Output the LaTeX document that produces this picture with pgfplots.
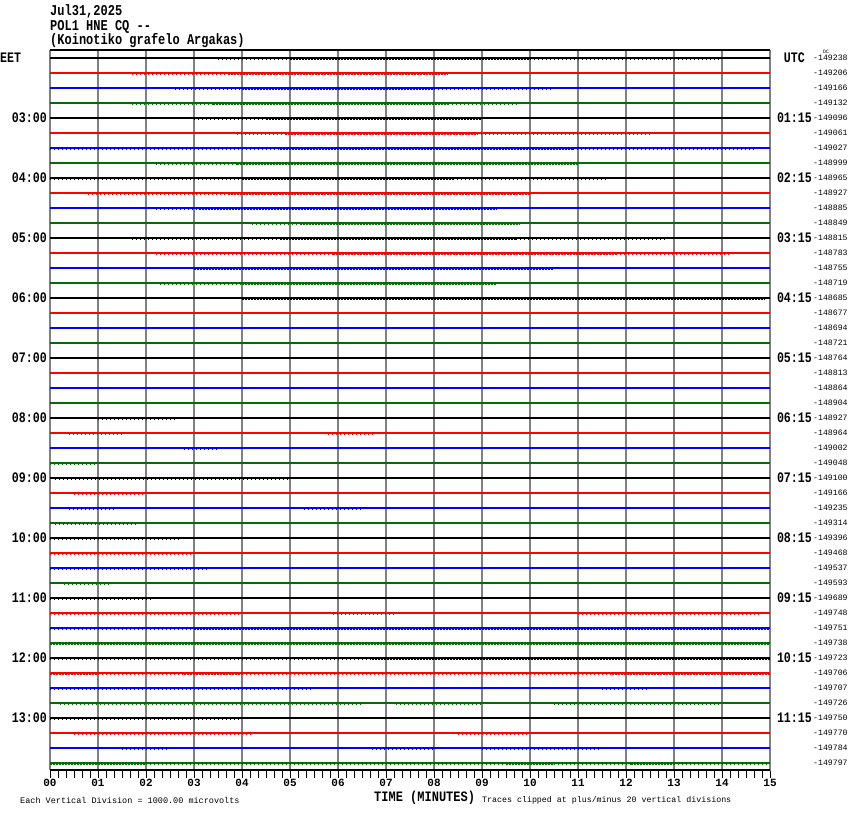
\documentclass[border=0pt]{standalone}
\usepackage{pgfplots}
\pgfplotsset{compat=1.18}
\usepackage{fontspec}
\usepackage{graphicx}
\newfontfamily\mono{Liberation Mono}
\definecolor{tgreen}{RGB}{0,110,0}
\definecolor{tred}{RGB}{255,0,0}
\definecolor{tblue}{RGB}{0,0,255}
\newcommand\rn[2]{\node[anchor=west,inner sep=0pt,font=\mono\fontsize{8.2}{9}\selectfont] at (axis cs:15,#1) [xshift=43pt] {#2};}
\newcommand\lt[2]{\node[anchor=east,inner sep=0pt,font=\mono\bfseries\fontsize{11.6}{12}\selectfont] at (axis cs:0,#1) [xshift=-3pt] {\scalebox{1}[1.25]{#2}};}
\newcommand\rt[2]{\node[anchor=east,inner sep=0pt,font=\mono\bfseries\fontsize{11.6}{12}\selectfont] at (axis cs:15,#1) [xshift=42pt] {\scalebox{1}[1.25]{#2}};}
\begin{document}
\begin{tikzpicture}
\path[use as bounding box] (0pt,0pt) rectangle (850pt,-814pt);
\node[anchor=west,inner sep=0pt,font=\mono\bfseries\fontsize{12}{12}\selectfont] at (50pt,-11pt) {\scalebox{1}[1.25]{Jul31,2025}};
\node[anchor=west,inner sep=0pt,font=\mono\bfseries\fontsize{12}{12}\selectfont] at (50pt,-27pt) {\scalebox{1}[1.25]{POL1 HNE CQ --}};
\node[anchor=west,inner sep=0pt,font=\mono\bfseries\fontsize{12}{12}\selectfont] at (50pt,-41pt) {\scalebox{1}[1.25]{(Koinotiko grafelo Argakas)}};
\node[anchor=west,inner sep=0pt,font=\mono\fontsize{8.5}{9}\selectfont] at (20pt,-800pt) {Each Vertical Division = 1000.00 microvolts};
\node[anchor=west,inner sep=0pt,font=\mono\bfseries\fontsize{12}{13}\selectfont] at (374pt,-798pt) {\scalebox{1}[1.2]{TIME (MINUTES)}};
\node[anchor=west,inner sep=0pt,font=\mono\fontsize{8.3}{9}\selectfont] at (482pt,-800pt) {Traces clipped at plus/minus 20 vertical divisions};
\node[anchor=west,inner sep=0pt,font=\mono\fontsize{5}{5}\selectfont] at (823pt,-52pt) {DC};
\begin{axis}[
  at={(50pt,-50pt)}, anchor=north west,
  scale only axis, width=720pt, height=720pt,
  xmin=0, xmax=15, ymin=-0.533, ymax=47.467, y dir=reverse,
  axis line style={draw=gray, line width=1pt},
  xtick={0,...,15},
  xticklabels={00,01,02,03,04,05,06,07,08,09,10,11,12,13,14,15},
  xticklabel style={font=\mono\bfseries\fontsize{11}{11}\selectfont, inner sep=1pt},
  minor x tick num=5,
  xtick pos=bottom, tick align=outside,
  major tick length=8pt, minor tick length=8pt,
  every tick/.style={black, line width=1pt},
  ytick=\empty,
  xmajorgrids, major x grid style={gray, line width=1.2pt},
  clip=false, unbounded coords=jump,
]
% baselines
\addplot[black, line width=1.2pt] coordinates {(0,0) (15,0) (nan,nan) (0,4) (15,4) (nan,nan) (0,8) (15,8) (nan,nan) (0,12) (15,12) (nan,nan) (0,16) (15,16) (nan,nan) (0,20) (15,20) (nan,nan) (0,24) (15,24) (nan,nan) (0,28) (15,28) (nan,nan) (0,32) (15,32) (nan,nan) (0,36) (15,36) (nan,nan) (0,40) (15,40) (nan,nan) (0,44) (15,44)};
\addplot[tred, line width=1.2pt] coordinates {(0,1) (15,1) (nan,nan) (0,5) (15,5) (nan,nan) (0,9) (15,9) (nan,nan) (0,13) (15,13) (nan,nan) (0,17) (15,17) (nan,nan) (0,21) (15,21) (nan,nan) (0,25) (15,25) (nan,nan) (0,29) (15,29) (nan,nan) (0,33) (15,33) (nan,nan) (0,37) (15,37) (nan,nan) (0,41) (15,41) (nan,nan) (0,45) (15,45)};
\addplot[tblue, line width=1.2pt] coordinates {(0,2) (15,2) (nan,nan) (0,6) (15,6) (nan,nan) (0,10) (15,10) (nan,nan) (0,14) (15,14) (nan,nan) (0,18) (15,18) (nan,nan) (0,22) (15,22) (nan,nan) (0,26) (15,26) (nan,nan) (0,30) (15,30) (nan,nan) (0,34) (15,34) (nan,nan) (0,38) (15,38) (nan,nan) (0,42) (15,42) (nan,nan) (0,46) (15,46)};
\addplot[tgreen, line width=1.2pt] coordinates {(0,3) (15,3) (nan,nan) (0,7) (15,7) (nan,nan) (0,11) (15,11) (nan,nan) (0,15) (15,15) (nan,nan) (0,19) (15,19) (nan,nan) (0,23) (15,23) (nan,nan) (0,27) (15,27) (nan,nan) (0,31) (15,31) (nan,nan) (0,35) (15,35) (nan,nan) (0,39) (15,39) (nan,nan) (0,43) (15,43) (nan,nan) (0,47) (15,47)};
% dense noise segments
\addplot[black, line width=3pt, dash pattern=on 2pt off 1pt] coordinates {(5.0,0) (10.0,0) (nan,nan) (4.5,4) (9.0,4) (nan,nan) (4.0,8) (8.4,8) (nan,nan) (4.8,12) (9.7,12) (nan,nan) (4.0,16) (14.9,16) (nan,nan) (6.7,40) (15,40)};
\addplot[tred, line width=3pt, dash pattern=on 2pt off 1pt] coordinates {(3.7,1) (8.3,1) (nan,nan) (4.9,5) (8.9,5) (nan,nan) (3.7,9) (10.0,9) (nan,nan) (5.9,13) (11.8,13) (nan,nan) (0,41) (1.0,41) (nan,nan) (2.8,41) (4.0,41) (nan,nan) (11.7,41) (15,41)};
\addplot[tblue, line width=3pt, dash pattern=on 2pt off 1pt] coordinates {(4.0,2) (8.0,2) (nan,nan) (4.8,6) (10.9,6) (nan,nan) (3.1,10) (9.3,10) (nan,nan) (3.0,14) (10.5,14) (nan,nan) (3.0,38) (15,38)};
\addplot[tgreen, line width=3pt, dash pattern=on 2pt off 1pt] coordinates {(3.4,3) (8.3,3) (nan,nan) (3.9,7) (11.0,7) (nan,nan) (5.2,11) (9.8,11) (nan,nan) (4.0,15) (9.3,15) (nan,nan) (0,39) (15,39) (nan,nan) (0,47) (2.0,47) (nan,nan) (9.5,47) (10.5,47) (nan,nan) (12.1,47) (13.0,47)};
% sparse noise segments
\addplot[black, line width=3pt, dash pattern=on 1pt off 3pt] coordinates {(3.5,0) (5.0,0) (nan,nan) (10.0,0) (14.0,0) (nan,nan) (3.0,4) (4.5,4) (nan,nan) (0,8) (4.0,8) (nan,nan) (8.4,8) (11.6,8) (nan,nan) (1.7,12) (4.8,12) (nan,nan) (9.7,12) (12.8,12) (nan,nan) (1.0,24) (2.6,24) (nan,nan) (0.1,28) (5.0,28) (nan,nan) (0,32) (2.7,32) (nan,nan) (0,36) (2.1,36) (nan,nan) (0,40) (6.7,40) (nan,nan) (0,44) (4.0,44)};
\addplot[tred, line width=3pt, dash pattern=on 1pt off 3pt] coordinates {(1.7,1) (3.7,1) (nan,nan) (3.9,5) (4.9,5) (nan,nan) (8.9,5) (12.5,5) (nan,nan) (0.8,9) (3.7,9) (nan,nan) (2.2,13) (5.9,13) (nan,nan) (11.8,13) (14.2,13) (nan,nan) (0.4,25) (1.5,25) (nan,nan) (5.8,25) (6.8,25) (nan,nan) (0.5,29) (2.0,29) (nan,nan) (0,33) (3.0,33) (nan,nan) (0,37) (4.0,37) (nan,nan) (5.9,37) (7.2,37) (nan,nan) (11.0,37) (14.8,37) (nan,nan) (1.0,41) (2.8,41) (nan,nan) (4.0,41) (11.7,41) (nan,nan) (0.5,45) (4.2,45) (nan,nan) (8.5,45) (10.0,45)};
\addplot[tblue, line width=3pt, dash pattern=on 1pt off 3pt] coordinates {(2.6,2) (4.0,2) (nan,nan) (8.0,2) (10.5,2) (nan,nan) (0,6) (4.8,6) (nan,nan) (10.9,6) (14.7,6) (nan,nan) (2.2,10) (3.1,10) (nan,nan) (2.8,26) (3.5,26) (nan,nan) (0.4,30) (1.4,30) (nan,nan) (5.3,30) (6.5,30) (nan,nan) (0,34) (3.3,34) (nan,nan) (0,38) (3.0,38) (nan,nan) (0,42) (5.5,42) (nan,nan) (11.5,42) (12.5,42) (nan,nan) (1.5,46) (2.5,46) (nan,nan) (6.7,46) (8.0,46) (nan,nan) (9.0,46) (11.5,46)};
\addplot[tgreen, line width=3pt, dash pattern=on 1pt off 3pt] coordinates {(1.7,3) (3.4,3) (nan,nan) (8.3,3) (9.8,3) (nan,nan) (2.2,7) (3.9,7) (nan,nan) (4.2,11) (5.2,11) (nan,nan) (2.3,15) (4.0,15) (nan,nan) (0,27) (1.0,27) (nan,nan) (0.1,31) (1.8,31) (nan,nan) (0.3,35) (1.3,35) (nan,nan) (0.2,43) (6.5,43) (nan,nan) (7.2,43) (9.0,43) (nan,nan) (10.5,43) (14.0,43) (nan,nan) (2.0,47) (9.5,47) (nan,nan) (10.5,47) (12.1,47) (nan,nan) (13.0,47) (15.0,47)};
% top and bottom frame lines
\draw[black, line width=1.2pt] (axis cs:0,-0.533) -- (axis cs:15,-0.533);
\draw[black, line width=1.2pt] (axis cs:0,47.467) -- (axis cs:15,47.467);
% left labels
\node[anchor=west,inner sep=0pt,font=\mono\bfseries\fontsize{11.6}{12}\selectfont] at (axis cs:0,0) [xshift=-50pt] {\scalebox{1}[1.25]{EET}};
\lt{4}{03:00}
\lt{8}{04:00}
\lt{12}{05:00}
\lt{16}{06:00}
\lt{20}{07:00}
\lt{24}{08:00}
\lt{28}{09:00}
\lt{32}{10:00}
\lt{36}{11:00}
\lt{40}{12:00}
\lt{44}{13:00}
% right labels
\node[anchor=east,inner sep=0pt,font=\mono\bfseries\fontsize{11.6}{12}\selectfont] at (axis cs:15,0) [xshift=35pt] {\scalebox{1}[1.25]{UTC}};
\rt{4}{01:15}
\rt{8}{02:15}
\rt{12}{03:15}
\rt{16}{04:15}
\rt{20}{05:15}
\rt{24}{06:15}
\rt{28}{07:15}
\rt{32}{08:15}
\rt{36}{09:15}
\rt{40}{10:15}
\rt{44}{11:15}
\rn{0}{-149238}
\rn{1}{-149206}
\rn{2}{-149166}
\rn{3}{-149132}
\rn{4}{-149096}
\rn{5}{-149061}
\rn{6}{-149027}
\rn{7}{-148999}
\rn{8}{-148965}
\rn{9}{-148927}
\rn{10}{-148885}
\rn{11}{-148849}
\rn{12}{-148815}
\rn{13}{-148783}
\rn{14}{-148755}
\rn{15}{-148719}
\rn{16}{-148685}
\rn{17}{-148677}
\rn{18}{-148694}
\rn{19}{-148721}
\rn{20}{-148764}
\rn{21}{-148813}
\rn{22}{-148864}
\rn{23}{-148904}
\rn{24}{-148927}
\rn{25}{-148964}
\rn{26}{-149002}
\rn{27}{-149048}
\rn{28}{-149100}
\rn{29}{-149166}
\rn{30}{-149235}
\rn{31}{-149314}
\rn{32}{-149396}
\rn{33}{-149468}
\rn{34}{-149537}
\rn{35}{-149593}
\rn{36}{-149689}
\rn{37}{-149748}
\rn{38}{-149751}
\rn{39}{-149738}
\rn{40}{-149723}
\rn{41}{-149706}
\rn{42}{-149707}
\rn{43}{-149726}
\rn{44}{-149750}
\rn{45}{-149770}
\rn{46}{-149784}
\rn{47}{-149797}
\end{axis}
\end{tikzpicture}
\end{document}
